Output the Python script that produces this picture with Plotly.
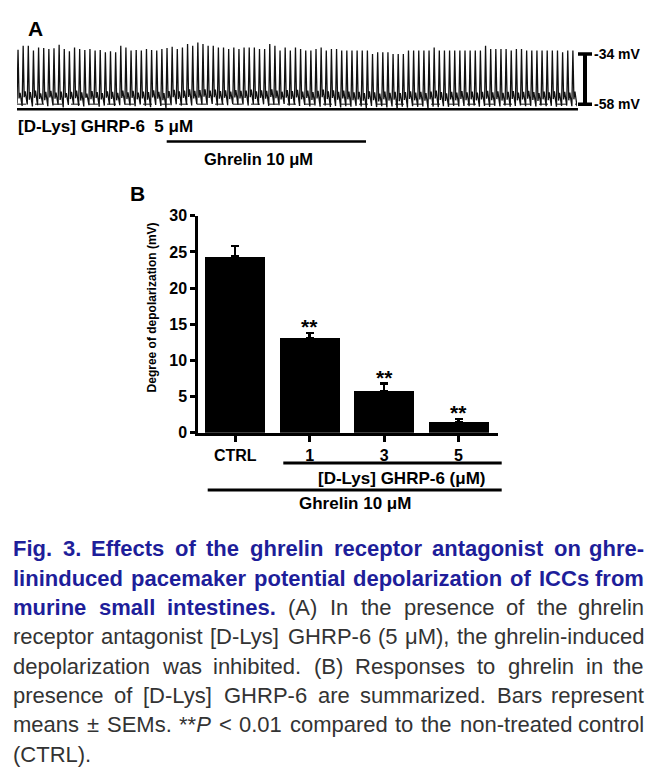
import plotly.graph_objects as go

W, H = 659, 784          # browser window
MARGIN = 8               # default page body margin
FW, FH = W - 2 * MARGIN, H - 2 * MARGIN

# ---------------- Panel B data ----------------
categories = ["CTRL", "1", "3", "5"]
depol_mean = [24.4, 13.1, 5.8, 1.5]
depol_sem = [1.4, 0.7, 1.0, 0.4]
sig_marks = ["", "**", "**", "**"]
ytick_vals = [0, 5, 10, 15, 20, 25, 30]

# ---------------- Panel A data (pacemaker potentials, mV) ----------------
peak_mv = [
    -32.0, -30.1, -30.1, -32.4, -30.9, -31.2, -31.7, -31.3, -29.6, -31.7, -32.7,
    -30.9, -31.7, -32.1, -31.7, -32.4, -32.1, -33.2, -32.7, -33.2, -30.1, -30.9,
    -32.4, -32.1, -32.4, -31.7, -32.1, -32.4, -31.7, -31.2, -30.6, -31.7, -30.9,
    -29.3, -30.1, -28.6, -29.3, -30.1, -30.1, -30.9, -30.9, -31.7, -30.9, -31.7,
    -30.9, -30.9, -30.9, -31.7, -31.7, -29.3, -30.1, -32.4, -30.9, -32.4, -30.9,
    -31.7, -32.4, -32.4, -31.7, -30.9, -32.4, -31.7, -31.7, -32.4, -32.4, -32.4,
    -32.4, -32.4, -32.4, -34.0, -33.2, -33.2, -33.2, -34.0, -34.0, -34.0, -32.4,
    -32.4, -32.4, -32.4, -32.4, -30.9, -32.4, -32.4, -32.4, -32.4, -32.4, -32.4,
    -32.4, -32.4, -32.4, -30.1, -31.7, -31.7, -31.7, -31.7, -32.4, -31.7, -31.7,
    -32.4, -32.4, -32.4, -32.4, -32.4, -32.4, -32.4, -33.2, -32.4, -32.4,
]
notch_mv = [
    -55.2, -54.6, -55.8, -54.9, -55.4, -56.0, -54.7, -55.3, -55.9, -54.8, -55.5,
    -55.1, -56.2, -54.9, -55.6, -55.0, -55.7, -54.8, -55.4, -56.1, -55.0, -55.5,
    -54.9, -55.6, -55.2, -55.8, -54.7, -55.3, -56.0, -55.1, -54.6, -55.4, -54.9,
    -54.5, -55.2, -54.8, -54.4, -55.0, -54.6, -55.3, -54.9, -55.5, -54.7, -55.2,
    -55.0, -54.6, -55.4, -54.9, -55.3, -54.5, -55.1, -55.7, -54.8, -55.4, -54.7,
    -55.6, -55.0, -55.9, -55.2, -54.6, -55.5, -55.0, -55.8, -55.2, -55.6, -56.0,
    -55.7, -56.3, -55.5, -56.0, -56.6, -55.6, -56.2, -55.8, -56.5, -55.9, -55.4,
    -56.1, -55.7, -56.3, -55.6, -55.2, -55.9, -56.4, -55.7, -56.1, -55.4, -56.0,
    -55.6, -56.1, -55.7, -55.3, -56.0, -55.5, -56.2, -55.8, -55.4, -56.1, -55.7,
    -55.3, -55.9, -56.4, -55.6, -56.0, -55.5, -56.2, -55.7, -56.1, -55.6,
]
shoulder_mv = [
    -52.5, -51.8, -52.2, -51.5, -52.8, -52.0, -51.6, -52.4, -51.9, -52.7, -52.1,
    -51.4, -52.3, -52.9, -51.7, -52.2, -52.6, -51.8, -52.0, -52.5, -51.5, -52.3,
    -51.6, -52.4, -51.9, -52.2, -51.3, -52.0, -52.6, -51.7, -51.1, -51.8, -51.4,
    -50.9, -51.6, -51.2, -50.8, -51.5, -51.0, -51.7, -51.3, -51.9, -51.2, -51.6,
    -51.4, -51.0, -51.8, -51.3, -51.6, -50.9, -51.5, -52.0, -51.2, -51.7, -51.1,
    -51.9, -51.4, -52.2, -51.6, -51.0, -51.8, -51.3, -52.1, -51.5, -51.9, -52.3,
    -52.0, -52.6, -51.8, -52.3, -52.9, -51.9, -52.5, -52.1, -52.7, -52.2, -51.8,
    -52.4, -52.0, -52.6, -51.9, -51.5, -52.2, -52.8, -52.0, -52.4, -51.7, -52.3,
    -51.9, -52.4, -52.0, -51.6, -52.3, -51.8, -52.5, -52.1, -51.7, -52.4, -52.0,
    -51.6, -52.2, -52.7, -51.9, -52.3, -51.8, -52.5, -52.0, -52.4, -51.9,
]
trough_mv = [
    -57.6, -58.8, -58.1, -59.0, -58.4, -57.8, -58.9, -58.5, -58.2, -59.5, -58.3,
    -58.0, -58.7, -59.0, -58.4, -57.9, -59.1, -58.6, -58.1, -58.8, -58.4, -58.2,
    -58.5, -58.9, -58.1, -58.7, -59.4, -58.3, -58.8, -59.8, -58.4, -58.0, -58.6,
    -58.2, -58.5, -57.9, -58.1, -58.3, -57.8, -58.5, -58.0, -58.4, -57.9, -58.2,
    -58.1, -58.5, -57.9, -58.3, -58.0, -58.7, -58.2, -58.4, -57.8, -58.6, -58.1,
    -58.8, -58.3, -59.0, -58.5, -59.1, -58.6, -59.3, -58.8, -59.5, -58.9, -59.1,
    -58.7, -59.0, -60.0, -58.8, -59.3, -58.9, -59.5, -59.0, -60.3, -59.1, -59.6,
    -58.9, -59.2, -59.0, -59.8, -59.1, -59.4, -58.9, -59.2, -58.7, -59.0, -58.8,
    -58.9, -58.6, -59.1, -58.8, -59.2, -58.7, -59.0, -58.6, -59.1, -58.8, -58.5,
    -58.9, -58.7, -59.0, -58.6, -58.9, -58.7, -59.1, -58.8, -58.6, -58.9,
]
scale_mv = [-34, -58]
baseline_mv = -58

# caption: list of lines; each line is a list of (text, style) segments
caption_lines = [
    [("Fig. 3. Effects of the ghrelin receptor antagonist on ghre-", "b")],
    [("lininduced pacemaker potential depolarization of ICCs from", "b")],
    [("murine small intestines.", "b"), ("(A) In the presence of the ghrelin", "g")],
    [("receptor antagonist [D-Lys] GHRP-6 (5 μM), the ghrelin-induced", "g")],
    [("depolarization was inhibited. (B) Responses to ghrelin in the", "g")],
    [("presence of [D-Lys] GHRP-6 are summarized. Bars represent", "g")],
    [("means ± SEMs. **P < 0.01 compared to the non-treated control", "g")],
    [("(CTRL).", "g")],
]


def px(x):
    return (x - MARGIN) / FW


def py(y):
    return 1 - (y - MARGIN) / FH


ARIAL = "Arial, Liberation Sans, Helvetica, sans-serif"

# Arial advance widths (1/1000 em) used to justify the caption text
REG = {" ": 278, "(": 333, ")": 333, "[": 278, "]": 278, ",": 278, "-": 333,
       ".": 278, "<": 584, "±": 549, "*": 389, "μ": 576,
       "A": 667, "B": 667, "C": 722, "D": 722, "E": 667, "G": 778, "H": 722,
       "I": 278, "L": 556, "M": 833, "P": 667, "R": 722, "S": 667, "T": 611,
       "a": 556, "b": 556, "c": 500, "d": 556, "e": 556, "f": 278, "g": 556,
       "h": 556, "i": 222, "k": 500, "l": 222, "m": 833, "n": 556, "o": 556,
       "p": 556, "r": 333, "s": 500, "t": 278, "u": 556, "v": 500, "w": 722,
       "y": 500, "z": 500}
BOLD = {" ": 278, ".": 278, "-": 333, "E": 667, "F": 611, "I": 278, "C": 722,
        "a": 556, "c": 556, "d": 611, "e": 556, "f": 333, "g": 611, "h": 611,
        "i": 278, "k": 556, "l": 278, "m": 889, "n": 611, "o": 611, "p": 611,
        "r": 389, "s": 556, "t": 333, "u": 611, "z": 500}


def word_width(word, style, size):
    tab = BOLD if style == "b" else REG
    return sum(tab.get(ch, 556) for ch in word) / 1000.0 * size


# Build trace coordinates (one cycle per recorded spike)
n = len(peak_mv)
t, v = [], []
for i in range(n):
    t += [i, i + 0.2, i + 0.4, i + 0.6]
    v += [trough_mv[i], peak_mv[i], notch_mv[i], shoulder_mv[i]]
t.append(n)
v.append(trough_mv[-1])

fig = go.Figure()

fig.add_trace(go.Scatter(
    x=t, y=v, mode="lines", line=dict(color="#111111", width=1.3),
    xaxis="x2", yaxis="y2", showlegend=False, hoverinfo="skip",
))

fig.add_trace(go.Bar(
    x=list(range(len(categories))), y=depol_mean, width=0.805,
    marker=dict(color="black", line=dict(width=0)),
    error_y=dict(type="data", array=depol_sem, arrayminus=[0] * len(depol_sem),
                 symmetric=False, color="black", thickness=2.5, width=4),
    showlegend=False, hoverinfo="skip",
))

shapes = []
ann = []

# Panel A decorations
shapes.append(dict(type="line", xref="x2", yref="y2", x0=0, x1=n,
                   y0=baseline_mv, y1=baseline_mv,
                   line=dict(color="#666", width=1.5, dash="dash"), layer="below"))
shapes.append(dict(type="line", xref="paper", yref="paper", x0=px(17), x1=px(578),
                   y0=py(103.3), y1=py(103.3), line=dict(color="black", width=2.5)))
shapes.append(dict(type="line", xref="paper", yref="paper", x0=px(166.7), x1=px(366),
                   y0=py(136.3), y1=py(136.3), line=dict(color="black", width=2.5)))
# scale bar
shapes.append(dict(type="line", xref="paper", yref="y2", x0=px(585), x1=px(585),
                   y0=scale_mv[0], y1=scale_mv[1], line=dict(color="black", width=4)))
for mv in scale_mv:
    shapes.append(dict(type="line", xref="paper", yref="y2", x0=px(578), x1=px(592),
                       y0=mv, y1=mv, line=dict(color="black", width=3.5)))
    ann.append(dict(xref="paper", yref="y2", x=px(592), y=mv, xanchor="left",
                    yanchor="middle", text="<b>%d mV</b>" % mv, showarrow=False,
                    font=dict(family=ARIAL, size=14, color="black")))

ann.append(dict(xref="paper", yref="paper", x=px(26), y=py(21), xanchor="left",
                yanchor="middle", text="<b>A</b>", showarrow=False,
                font=dict(family=ARIAL, size=21, color="black")))
ann.append(dict(xref="paper", yref="paper", x=px(16), y=py(121), xanchor="left",
                yanchor="middle", text="<b>[D-Lys] GHRP-6  5 μM</b>", showarrow=False,
                font=dict(family=ARIAL, size=17, color="black")))
ann.append(dict(xref="paper", yref="paper", x=px(259), y=py(154), xanchor="center",
                yanchor="middle", text="<b>Ghrelin 10 μM</b>", showarrow=False,
                font=dict(family=ARIAL, size=16.5, color="black")))

# Panel B decorations
ann.append(dict(xref="paper", yref="paper", x=px(128), y=py(190), xanchor="left",
                yanchor="middle", text="<b>B</b>", showarrow=False,
                font=dict(family=ARIAL, size=21, color="black")))
ann.append(dict(xref="paper", yref="paper", x=px(152), y=py(306), xanchor="center",
                yanchor="middle", text="<b>Degree of depolarization (mV)</b>",
                textangle=-90, showarrow=False,
                font=dict(family=ARIAL, size=12, color="black")))
for i, s in enumerate(sig_marks):
    if s:
        ann.append(dict(xref="x", yref="y", x=i, y=depol_mean[i] + depol_sem[i],
                        xanchor="center", yanchor="bottom", yshift=-7,
                        text="<b>%s</b>" % s, showarrow=False,
                        font=dict(family=ARIAL, size=21, color="black")))
shapes.append(dict(type="line", xref="paper", yref="paper", x0=px(283.3), x1=px(501.7),
                   y0=py(465), y1=py(465), line=dict(color="black", width=3)))
shapes.append(dict(type="line", xref="paper", yref="paper", x0=px(207.7), x1=px(501.7),
                   y0=py(492.7), y1=py(492.7), line=dict(color="black", width=3)))
ann.append(dict(xref="paper", yref="paper", x=px(402), y=py(481), xanchor="center",
                yanchor="middle", text="<b>[D-Lys] GHRP-6 (μM)</b>", showarrow=False,
                font=dict(family=ARIAL, size=17, color="black")))
ann.append(dict(xref="paper", yref="paper", x=px(355), y=py(507), xanchor="center",
                yanchor="middle", text="<b>Ghrelin 10 μM</b>", showarrow=False,
                font=dict(family=ARIAL, size=17, color="black")))

# Caption (justified, word by word)
BLUE = "#1e1e9a"
GREY = "#333333"
CAP_SIZE = 22
CAP_LEFT, CAP_RIGHT = 12, 645


def word_markup(word, style):
    w = word.replace("<", "&lt;")
    if w.startswith("**P"):
        w = "**<i>P</i>" + w[3:]
    if style == "b":
        return "<b>%s</b>" % w
    return w


for k, segs in enumerate(caption_lines):
    words = []
    for text, style in segs:
        for w in text.split(" "):
            if w:
                words.append((w, style))
    yline = py(553 + 30 * k)
    widths = [word_width(w, s, CAP_SIZE) for w, s in words]
    last = k == len(caption_lines) - 1
    if len(words) > 1 and not last:
        gap = (CAP_RIGHT - CAP_LEFT - sum(widths)) / (len(words) - 1)
    else:
        gap = REG[" "] / 1000.0 * CAP_SIZE
    x = CAP_LEFT
    for j, ((w, s), ww) in enumerate(zip(words, widths)):
        color = BLUE if s == "b" else GREY
        if j == len(words) - 1 and len(words) > 1 and not last:
            ann.append(dict(xref="paper", yref="paper", x=px(CAP_RIGHT), y=yline,
                            xanchor="right", yanchor="middle", borderpad=0,
                            text=word_markup(w, s), showarrow=False,
                            font=dict(family=ARIAL, size=CAP_SIZE, color=color)))
        else:
            ann.append(dict(xref="paper", yref="paper", x=px(x), y=yline,
                            xanchor="left", yanchor="middle", borderpad=0,
                            text=word_markup(w, s), showarrow=False,
                            font=dict(family=ARIAL, size=CAP_SIZE, color=color)))
        x += ww + gap

fig.update_layout(
    width=FW, height=FH, margin=dict(l=0, r=0, t=0, b=0),
    paper_bgcolor="white", plot_bgcolor="white",
    shapes=shapes, annotations=ann, bargap=0,
    xaxis=dict(domain=[px(198), px(498)], range=[-0.5, 3.53],
               tickvals=list(range(len(categories))), ticktext=["<b>%s</b>" % c for c in categories],
               ticks="outside", ticklen=6, tickwidth=2.5, tickcolor="black",
               showline=True, linecolor="black", linewidth=2.5, showgrid=False,
               zeroline=False, tickfont=dict(family=ARIAL, size=16, color="black"),
               anchor="y", fixedrange=True),
    yaxis=dict(domain=[py(434.3), py(212.3)], range=[0, 30],
               tickvals=ytick_vals, ticktext=["<b>%d</b>" % t_ for t_ in ytick_vals],
               ticks="outside", ticklen=5, tickwidth=2.5, tickcolor="black",
               showline=True, linecolor="black", linewidth=2.5, showgrid=False,
               zeroline=False, tickfont=dict(family=ARIAL, size=16, color="black"),
               anchor="x", fixedrange=True),
    xaxis2=dict(domain=[px(17), px(577)], range=[0, n], visible=False, anchor="y2",
                fixedrange=True),
    yaxis2=dict(domain=[py(105), py(30)], range=[-61.1, -26.2], visible=False,
                anchor="x2", fixedrange=True),
)

fig.write_html("out.html")
